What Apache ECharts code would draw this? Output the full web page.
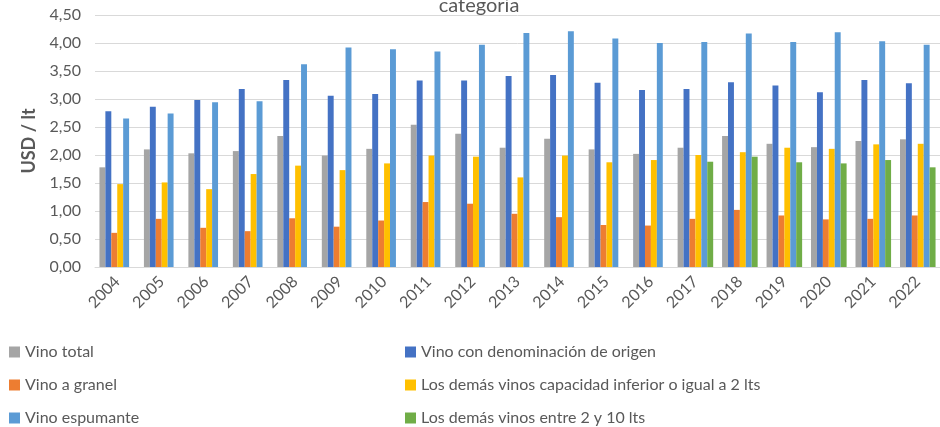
<!DOCTYPE html>
<html>
<head>
<meta charset="utf-8">
<script src="https://cdn.jsdelivr.net/npm/echarts@6/dist/echarts.min.js"></script>
<style>html,body{margin:0;padding:0;background:#fff}#c{width:940px;height:427px}</style>
</head>
<body>
<div id="c"></div>
<script>
const years = ['2004','2005','2006','2007','2008','2009','2010','2011','2012','2013','2014','2015','2016','2017','2018','2019','2020','2021','2022'];
const seriesNames = ['Vino total','Vino con denominación de origen','Vino a granel','Los demás vinos capacidad inferior o igual a 2 lts','Vino espumante','Los demás vinos entre 2 y 10 lts'];
const vinoTotal = [1.78,2.10,2.03,2.07,2.34,1.99,2.11,2.54,2.38,2.13,2.29,2.10,2.02,2.13,2.34,2.20,2.14,2.25,2.28];
const vinoDO = [2.78,2.86,2.98,3.18,3.34,3.06,3.09,3.33,3.33,3.41,3.43,3.29,3.16,3.18,3.30,3.24,3.12,3.34,3.28];
const vinoGranel = [0.61,0.86,0.70,0.64,0.87,0.72,0.83,1.16,1.13,0.95,0.89,0.75,0.74,0.86,1.02,0.92,0.85,0.86,0.92];
const demasMenos2 = [1.48,1.51,1.39,1.66,1.81,1.73,1.85,1.99,1.97,1.60,1.99,1.87,1.91,2.00,2.05,2.13,2.11,2.19,2.20];
const espumante = [2.65,2.74,2.94,2.96,3.62,3.92,3.89,3.85,3.97,4.18,4.21,4.08,4.00,4.02,4.17,4.02,4.19,4.03,3.97];
const demas2a10 = [null,null,null,null,null,null,null,null,null,null,null,null,null,1.88,1.97,1.87,1.85,1.91,1.78];
const yTicks = ['0,00','0,50','1,00','1,50','2,00','2,50','3,00','3,50','4,00','4,50'];
const titleText = 'categoria';
const yName = 'USD / lt';

const colors = ['#A5A5A5','#4472C4','#ED7D31','#FFC000','#5B9BD5','#70AD47'];
const values = [vinoTotal, vinoDO, vinoGranel, demasMenos2, espumante, demas2a10];
const font = 'Lato, "Open Sans", sans-serif';
const txt = '#595959';

const legendBase = {
  orient: 'vertical', top: 344, height: 120, padding: 0,
  itemWidth: 11, itemHeight: 11, itemGap: 17, icon: 'rect',
  textStyle: {fontFamily: font, fontSize: 16, color: txt, lineHeight: 16}
};

const chart = echarts.init(document.getElementById('c'), null, {renderer:'canvas'});
chart.setOption({
  animation: false,
  color: colors,
  title: {
    text: titleText, left: 474, top: -9, textAlign: 'center',
    textStyle: {fontFamily: font, fontSize: 20, fontWeight: 'normal', color: txt}
  },
  legend: [
    Object.assign({}, legendBase, {left: 9, data: [seriesNames[0], seriesNames[2], seriesNames[4]]}),
    Object.assign({}, legendBase, {left: 405, data: [seriesNames[1], seriesNames[3], seriesNames[5]]})
  ],
  grid: {left: 95, top: 15, right: -8, bottom: 160, containLabel: false},
  xAxis: {
    type: 'category', data: years,
    axisLine: {lineStyle: {color: '#D9D9D9'}},
    axisTick: {show: false},
    axisLabel: {rotate: 45, margin: 12, fontFamily: font, fontSize: 16, color: txt, interval: 0}
  },
  yAxis: {
    type: 'value', min: 0, max: 4.5, interval: 0.5,
    name: yName, nameLocation: 'middle', nameGap: 56, nameRotate: 90,
    nameTextStyle: {fontFamily: font, fontSize: 18, fontWeight: 'bold', color: txt},
    axisLine: {show: false}, axisTick: {show: false},
    splitLine: {lineStyle: {color: '#D9D9D9', width: 1}},
    axisLabel: {margin: 14, fontFamily: font, fontSize: 16, color: txt,
      formatter: (v) => yTicks[Math.round(v / 0.5)]}
  },
  series: seriesNames.map((n, i) => ({
    name: n, type: 'bar', data: values[i],
    barGap: 0, barCategoryGap: '20%',
    itemStyle: {color: colors[i]}
  }))
});
</script>
</body>
</html>
